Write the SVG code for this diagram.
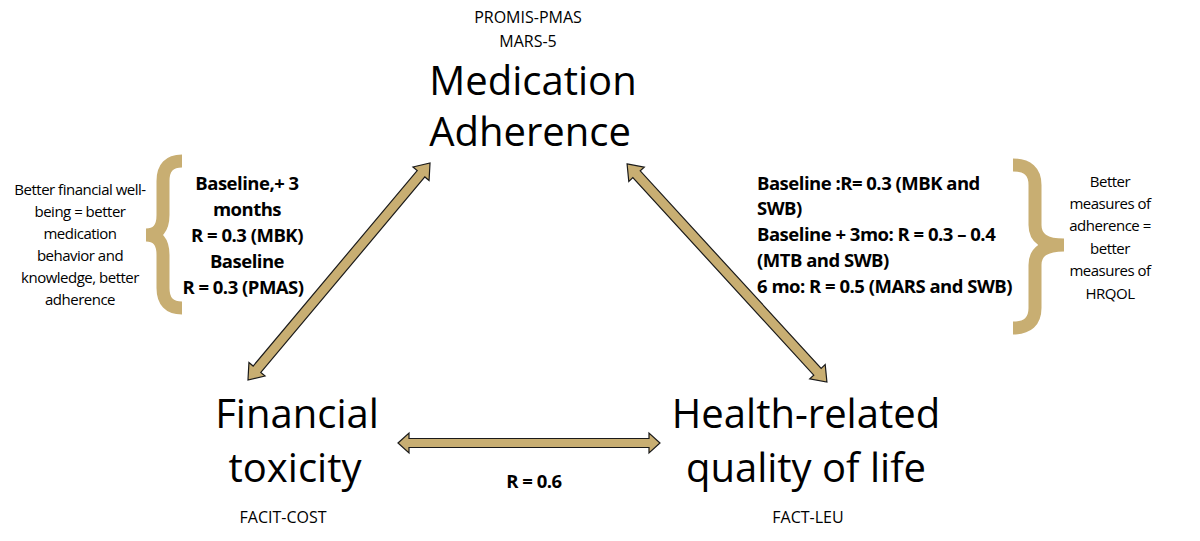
<svg xmlns="http://www.w3.org/2000/svg" width="1200" height="541" viewBox="0 0 1200 541">
<defs>
<style>
.title{font-family:"Open Sans","Liberation Sans",sans-serif;font-size:40px;fill:#000;text-anchor:middle}
.meas{font-family:"Open Sans","Liberation Sans",sans-serif;font-size:16px;fill:#000;text-anchor:middle}
.bold{font-family:"Open Sans","Liberation Sans",sans-serif;font-size:18.5px;font-weight:bold;fill:#000;letter-spacing:-0.5px}
.note{font-family:"Open Sans","Liberation Sans",sans-serif;font-size:15px;fill:#000;text-anchor:middle;letter-spacing:-0.5px}
.arrow{fill:#C8AE72;stroke:#1a1a1a;stroke-width:1.2;stroke-linejoin:miter}
.brace{fill:none;stroke:#C8AE72;stroke-width:13;stroke-linecap:butt}
</style>
</defs>
<rect width="1200" height="541" fill="#fff"/>
<g id="node-adherence">
<text class="meas" x="528" y="23">PROMIS-PMAS</text>
<text class="meas" x="528" y="47">MARS-5</text>
<text class="title" x="533" y="95">Medication</text>
<text class="title" x="530" y="146">Adherence</text>
</g>
<g id="node-financial">
<text class="title" x="297" y="428">Financial</text>
<text class="title" x="295" y="482">toxicity</text>
<text class="meas" x="283" y="523">FACIT-COST</text>
</g>
<g id="node-hrqol">
<text class="title" x="806" y="428">Health-related</text>
<text class="title" x="806" y="482">quality of life</text>
<text class="meas" x="808" y="523">FACT-LEU</text>
</g>
<g id="connectors">
<g transform="translate(339,271.5) rotate(-50)">
<path class="arrow" d="M -141.6 0 L -127.6 -10.5 L -127.6 -5 L 127.6 -5 L 127.6 -10.5 L 141.6 0 L 127.6 10.5 L 127.6 5 L -127.6 5 L -127.6 10.5 Z"/>
</g>
<g transform="translate(727,273) rotate(47.5)">
<path class="arrow" d="M -147.9 0 L -133.9 -10.5 L -133.9 -5 L 133.9 -5 L 133.9 -10.5 L 147.9 0 L 133.9 10.5 L 133.9 5 L -133.9 5 L -133.9 10.5 Z"/>
</g>
<g transform="translate(529,443)">
<path class="arrow" d="M -131 0 L -120 -10 L -120 -4.5 L 120 -4.5 L 120 -10 L 131 0 L 120 10 L 120 4.5 L -120 4.5 L -120 10 Z"/>
</g>
<text class="bold" x="534" y="488" text-anchor="middle">R = 0.6</text>
</g>
<g id="label-left">
<path class="brace" d="M 182 161 Q 163 161 163 181 L 163 215 Q 163 235 146 235 Q 163 235 163 255 L 163 288 Q 163 308 182 308"/>
<g text-anchor="middle">
<text class="bold" x="247" y="190">Baseline,+ 3</text>
<text class="bold" x="247" y="216">months</text>
<text class="bold" x="247" y="242">R = 0.3 (MBK)</text>
<text class="bold" x="247" y="268">Baseline</text>
<text class="bold" x="243" y="294">R = 0.3 (PMAS)</text>
</g>
<text class="note" x="80" y="195">Better financial well-</text>
<text class="note" x="80" y="217">being = better</text>
<text class="note" x="80" y="239">medication</text>
<text class="note" x="80" y="261">behavior and</text>
<text class="note" x="80" y="283">knowledge, better</text>
<text class="note" x="80" y="305">adherence</text>
</g>
<g id="label-right">
<path class="brace" d="M 1013 165 Q 1035 165 1035 185 L 1035 225 Q 1035 245 1064 245 Q 1035 245 1035 265 L 1035 308 Q 1035 328 1013 328"/>
<text class="bold" x="757" y="190">Baseline :R= 0.3 (MBK and</text>
<text class="bold" x="757" y="215">SWB)</text>
<text class="bold" x="757" y="241">Baseline + 3mo: R = 0.3 – 0.4</text>
<text class="bold" x="757" y="267">(MTB and SWB)</text>
<text class="bold" x="757" y="293">6 mo:  R = 0.5 (MARS and SWB)</text>
<text class="note" x="1110" y="187">Better</text>
<text class="note" x="1110" y="209">measures of</text>
<text class="note" x="1110" y="231">adherence =</text>
<text class="note" x="1110" y="254">better</text>
<text class="note" x="1110" y="276">measures of</text>
<text class="note" x="1110" y="299">HRQOL</text>
</g>
</svg>
